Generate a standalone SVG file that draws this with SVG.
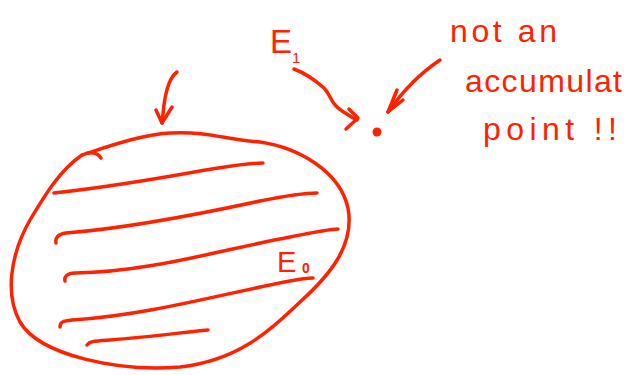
<svg xmlns="http://www.w3.org/2000/svg" width="626" height="375" viewBox="0 0 626 375">
<style>
.ink{fill:none;stroke:#ff2200;stroke-width:3.5;stroke-linecap:round;stroke-linejoin:round}
.txt{fill:#ff2200;font-family:"Liberation Sans","DejaVu Sans",sans-serif}
</style>
<rect width="626" height="375" fill="#ffffff"/>
<g id="set-E0">
<path class="ink" d="M82 155 C110 146 140 135 170 133 C210 131 225 140 260 142 C300 148 340 172 348 208 C355 245 330 275 300 302 C270 330 240 360 180 367 C120 372 40 356 20 322 C5 295 10 255 30 220 C45 195 60 170 82 155 Z"/>
<path class="ink" d="M88 153 C95 152 99 155 101 158"/>
<path class="ink" d="M54 193 C100 188 150 180 200 171 C225 167 245 163 263 163"/>
<path class="ink" d="M56 243 C55 238 58 234 66 233 C130 228 200 214 260 201 C285 196 305 193 317 193"/>
<path class="ink" d="M65 281 C64 277 67 273 75 273 C150 272 220 250 290 237 C315 232 330 229 338 229"/>
<path class="ink" d="M60 327 C60 322 63 321 72 320 C150 315 230 292 290 281 C300 279 308 278 313 278"/>
<path class="ink" d="M87 345 C90 341 95 341 110 340 C150 337 185 332 208 330"/>
<text class="txt" x="277" y="272" font-size="29">E<tspan x="302" y="273" font-size="14" font-weight="bold">0</tspan></text>
</g>
<g id="point">
<circle cx="377" cy="132" r="4.5" fill="#ff2200"/>
</g>
<g id="label-E1">
<text class="txt" x="270" y="53" font-size="33">E</text>
<text class="txt" x="292" y="63" font-size="15">1</text>
</g>
<g id="note">
<text class="txt" x="450" y="42" font-size="32" textLength="107" lengthAdjust="spacing">not an</text>
<text class="txt" x="465" y="92" font-size="32" textLength="157" lengthAdjust="spacing">accumulat</text>
<text class="txt" x="483" y="140" font-size="32" textLength="134" lengthAdjust="spacing">point !!</text>
</g>
<g id="connectors">
<path class="ink" d="M294 69 C302 72 315 80 324 88 C330 94 330 100 336 106 C342 112 350 116 357 120"/>
<path class="ink" d="M349 109 L358 118 L346 129"/>
<path class="ink" d="M177 72 C170 77 166 90 164 105 L162 123"/>
<path class="ink" d="M156 110 L162 123 L172 107"/>
<path class="ink" d="M440 60 C425 70 405 88 388 112"/>
<path class="ink" d="M397 90 L388 112 L403 100"/>
</g>
</svg>
